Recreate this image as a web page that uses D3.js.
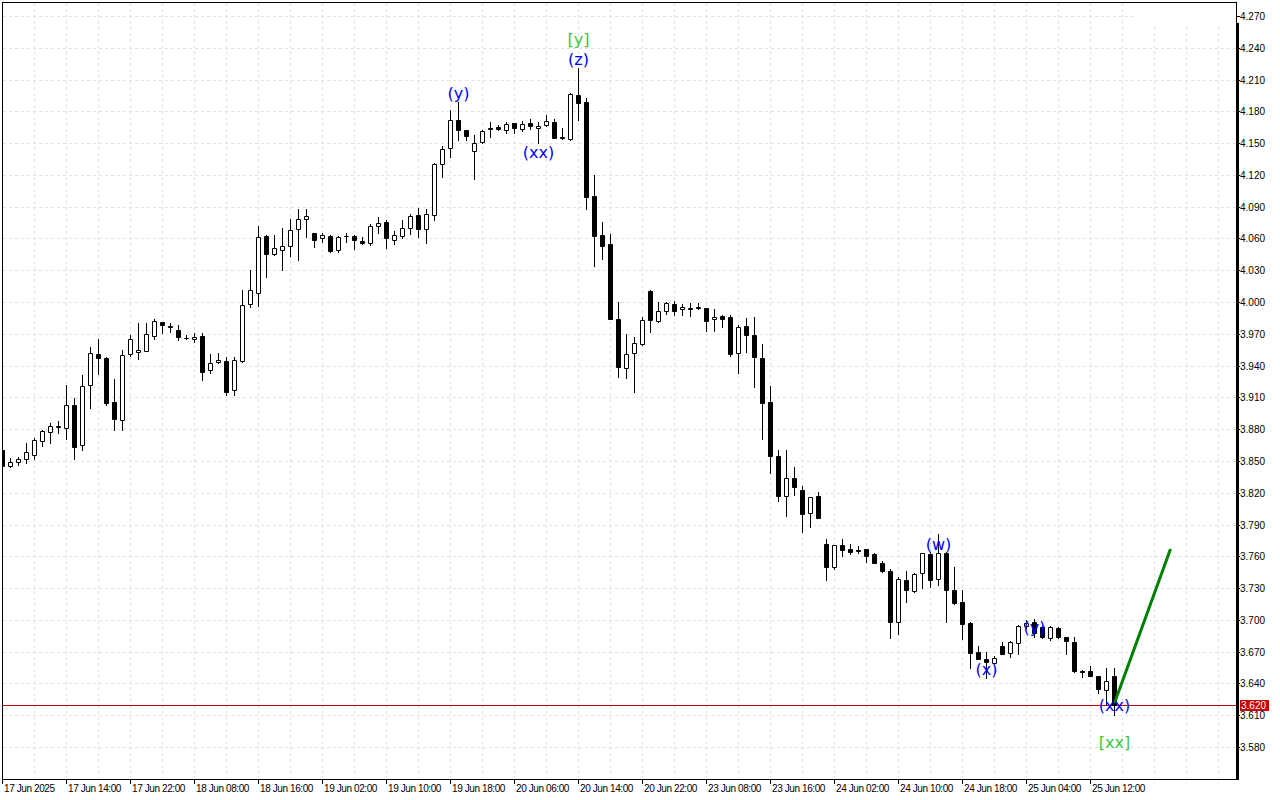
<!DOCTYPE html>
<html><head><meta charset="utf-8">
<script src="https://cdn.jsdelivr.net/npm/d3@7"></script>
<style>html,body{margin:0;padding:0;background:#fff;overflow:hidden}svg{display:block}</style>
</head><body>
<svg id="chart" width="1280" height="800"></svg>
<script>
// ---- DATA (hourly bars) ----
const open = [
3.860,3.845,3.849,3.852,3.856,3.869,3.877,3.882,3.881,3.903,
3.865,3.922,3.951,3.947,3.906,3.889,3.951,3.953,3.954,3.968,
3.981,3.977,3.974,3.966,3.965,3.968,3.936,3.943,3.944,3.917,
3.944,3.998,4.009,4.062,4.045,4.049,4.053,4.069,4.078,4.065,
4.060,4.062,4.049,4.062,4.062,4.058,4.056,4.072,4.076,4.059,
4.062,4.070,4.082,4.069,4.082,4.130,4.145,4.172,4.162,4.143,
4.151,4.164,4.165,4.162,4.169,4.163,4.169,4.164,4.167,4.170,
4.156,4.154,4.195,4.189,4.100,4.063,4.055,3.984,3.938,3.952,
3.960,4.010,3.982,3.992,3.998,3.993,3.994,3.995,3.994,3.984,
3.987,3.986,3.952,3.977,3.969,3.947,3.906,3.855,3.817,3.834,
3.823,3.801,3.817,3.772,3.750,3.771,3.767,3.766,3.767,3.762,
3.754,3.746,3.698,3.738,3.727,3.744,3.762,3.739,3.763,3.728,
3.717,3.697,3.670,3.663,3.659,3.675,3.669,3.678,3.694,3.698,
3.693,3.683,3.692,3.684,3.679,3.652,3.652,3.647,3.634,3.647];
const high = [
3.861,3.853,3.854,3.867,3.872,3.879,3.886,3.888,3.922,3.909,
3.931,3.958,3.965,3.948,3.927,3.955,3.969,3.980,3.980,3.984,
3.981,3.980,3.978,3.969,3.971,3.971,3.951,3.952,3.948,3.948,
4.011,4.030,4.072,4.063,4.063,4.070,4.078,4.088,4.088,4.065,
4.065,4.063,4.062,4.065,4.063,4.061,4.074,4.080,4.077,4.067,
4.077,4.083,4.089,4.088,4.131,4.147,4.181,4.189,4.162,4.158,
4.162,4.170,4.167,4.170,4.169,4.171,4.173,4.170,4.177,4.173,
4.164,4.197,4.221,4.193,4.120,4.076,4.064,4.000,3.970,3.967,
3.986,4.011,4.000,4.000,4.001,3.998,3.999,3.999,3.994,3.993,
3.988,3.988,3.978,3.985,3.986,3.960,3.921,3.860,3.860,3.844,
3.826,3.816,3.821,3.776,3.771,3.776,3.772,3.770,3.767,3.763,
3.756,3.748,3.740,3.746,3.744,3.763,3.764,3.781,3.764,3.750,
3.728,3.698,3.675,3.670,3.666,3.679,3.680,3.695,3.700,3.701,
3.694,3.694,3.693,3.684,3.684,3.653,3.656,3.647,3.655,3.655];
const low = [
3.844,3.844,3.846,3.848,3.852,3.864,3.867,3.876,3.871,3.852,
3.860,3.900,3.932,3.903,3.879,3.879,3.949,3.946,3.954,3.965,
3.971,3.972,3.964,3.965,3.962,3.926,3.933,3.942,3.912,3.912,
3.943,3.995,3.996,4.024,4.044,4.030,4.043,4.040,4.061,4.052,
4.057,4.047,4.047,4.057,4.050,4.055,4.054,4.065,4.051,4.055,
4.060,4.064,4.061,4.056,4.077,4.118,4.137,4.153,4.153,4.116,
4.150,4.156,4.162,4.160,4.160,4.161,4.163,4.150,4.166,4.155,
4.154,4.153,4.172,4.088,4.034,4.041,3.984,3.929,3.928,3.915,
3.959,3.972,3.981,3.989,3.988,3.988,3.987,3.993,3.973,3.973,
3.976,3.949,3.933,3.953,3.920,3.871,3.839,3.812,3.798,3.818,
3.783,3.788,3.796,3.738,3.748,3.760,3.762,3.763,3.755,3.754,
3.745,3.683,3.687,3.717,3.726,3.730,3.731,3.733,3.698,3.715,
3.682,3.655,3.663,3.645,3.659,3.668,3.665,3.668,3.692,3.684,
3.683,3.681,3.683,3.668,3.651,3.646,3.647,3.631,3.620,3.610];
const close = [
3.845,3.849,3.852,3.858,3.870,3.878,3.883,3.883,3.903,3.863,
3.921,3.952,3.947,3.905,3.890,3.950,3.965,3.955,3.970,3.982,
3.978,3.976,3.967,3.966,3.967,3.934,3.942,3.945,3.915,3.945,
3.997,4.011,4.061,4.045,4.051,4.053,4.068,4.078,4.081,4.059,
4.063,4.048,4.061,4.062,4.059,4.056,4.072,4.075,4.060,4.063,
4.070,4.081,4.069,4.083,4.130,4.144,4.172,4.162,4.157,4.150,
4.161,4.163,4.163,4.168,4.164,4.168,4.166,4.166,4.171,4.155,
4.155,4.196,4.188,4.099,4.062,4.053,3.984,3.939,3.951,3.961,
3.983,3.983,3.992,3.999,3.992,3.995,3.993,3.994,3.982,3.986,
3.984,3.951,3.976,3.969,3.948,3.905,3.855,3.817,3.834,3.825,
3.800,3.816,3.796,3.750,3.771,3.766,3.764,3.765,3.760,3.754,
3.746,3.698,3.739,3.728,3.743,3.763,3.738,3.763,3.728,3.716,
3.696,3.669,3.663,3.660,3.664,3.668,3.679,3.694,3.697,3.688,
3.684,3.693,3.684,3.680,3.652,3.651,3.647,3.635,3.642,3.620];

const timeLabels = ["17 Jun 2025","17 Jun 14:00","17 Jun 22:00","18 Jun 08:00","18 Jun 16:00",
  "19 Jun 02:00","19 Jun 10:00","19 Jun 18:00","20 Jun 06:00","20 Jun 14:00","20 Jun 22:00",
  "23 Jun 08:00","23 Jun 16:00","24 Jun 02:00","24 Jun 10:00","24 Jun 18:00","25 Jun 04:00","25 Jun 12:00"];
const timeLabelBars = [0,8,16,24,32,40,48,56,64,72,80,88,96,104,112,120,128,136];
const priceTicks = [3.580,3.610,3.640,3.670,3.700,3.730,3.760,3.790,3.820,3.850,3.880,3.910,3.940,
  3.970,4.000,4.030,4.060,4.090,4.120,4.150,4.180,4.210,4.240,4.270];
const lastPrice = 3.620;

const waveText   = ["[y]","(z)","(y)","(xx)","(w)","(x)","(y)","(xx)","[xx]"];
const waveBar    = [72,72,57,67,117,123,129,139,139];
const wavePrice  = [4.248,4.229,4.1965,4.1415,3.7715,3.6535,3.6925,3.6195,3.5842];
const waveDegree = ["major","minor","minor","minor","minor","minor","minor","minor","major"];

const projBars = [139,146];
const projPrices = [3.6215,3.767];

// ---- DRAW ----
const svg = d3.select('#chart');
const L = 2, T = 2, R = 1236, B = 779;
const x = d3.scaleLinear().domain([0,154.25]).range([2.5,1236.5]);
const y = d3.scaleLinear().domain([3.580,4.270]).range([747,16]);
const yr = y.copy().interpolate(d3.interpolateRound);

svg.append('rect').attr('width',1280).attr('height',800).attr('fill','#fff');
svg.append('defs').append('clipPath').attr('id','plot')
  .append('rect').attr('x',L+1).attr('y',T+1).attr('width',R-L-1).attr('height',B-T-1);

const grid = svg.append('g').attr('stroke','#e2e2e2').attr('stroke-dasharray','3,3').attr('stroke-width',1);
grid.selectAll('line.h').data(priceTicks).join('line').attr('class','h')
  .attr('x1',L+1).attr('x2',R).attr('y1',d=>yr(d)+0.5).attr('y2',d=>yr(d)+0.5);
grid.selectAll('line.v').data(d3.range(4,153,4)).join('line').attr('class','v')
  .attr('x1',d=>x(d)).attr('x2',d=>x(d)).attr('y1',T+1).attr('y2',B);
// blank box at top-right of plot
svg.append('rect').attr('x',1138).attr('y',T+1).attr('width',R-1138).attr('height',21).attr('fill','#fff');

const plot = svg.append('g').attr('clip-path','url(#plot)');

// last price line
plot.append('line').attr('x1',L).attr('x2',R).attr('y1',yr(lastPrice)+0.5).attr('y2',yr(lastPrice)+0.5)
  .attr('stroke','#c00000').attr('stroke-width',1);

const bars = d3.range(open.length);
plot.append('g').selectAll('line').data(bars).join('line')
  .attr('x1',i=>x(i)).attr('x2',i=>x(i))
  .attr('y1',i=>yr(high[i])).attr('y2',i=>yr(low[i])+1)
  .attr('stroke','#000').attr('stroke-width',1);
plot.append('g').selectAll('path').data(bars).join('path')
  .attr('d',i=>{
    const t = yr(Math.max(open[i],close[i])), b = yr(Math.min(open[i],close[i]));
    return `M${x(i)-2},${t+0.5}h4v${b-t}h-4z`;
  })
  .attr('fill',i=>close[i]>open[i]?'#fff':'#000')
  .attr('stroke','#000').attr('stroke-width',1);

// projection line
plot.append('path').datum(d3.range(projBars.length))
  .attr('d',d3.line().x(i=>x(projBars[i])).y(i=>y(projPrices[i])))
  .attr('stroke','#008000').attr('stroke-width',3).attr('fill','none');

// wave labels
const degColor = {major:'#3dc83d', minor:'#0000ff'};
svg.append('g').selectAll('text').data(d3.range(waveText.length)).join('text')
  .attr('x',i=>x(waveBar[i])).attr('y',i=>y(wavePrice[i]))
  .attr('text-anchor','middle').attr('dominant-baseline','central')
  .attr('font-family','DejaVu Sans').attr('font-size',16)
  .attr('fill',i=>degColor[waveDegree[i]])
  .text(i=>waveText[i]);

// borders
svg.append('line').attr('x1',L).attr('x2',R+1).attr('y1',T+0.5).attr('y2',T+0.5).attr('stroke','#000');
svg.append('line').attr('x1',L+0.5).attr('x2',L+0.5).attr('y1',T).attr('y2',B+1).attr('stroke','#000');
svg.append('line').attr('x1',L).attr('x2',R+3).attr('y1',B+0.5).attr('y2',B+0.5).attr('stroke','#000');
svg.append('line').attr('x1',R+0.5).attr('x2',R+0.5).attr('y1',T).attr('y2',24).attr('stroke','#000');
svg.append('rect').attr('x',R).attr('y',23).attr('width',3).attr('height',B-23+1).attr('fill','#000');

// y axis
const yAxis = svg.append('g').attr('transform',`translate(${R+1},0)`)
  .call(d3.axisRight(yr).tickValues(priceTicks).tickSize(3).tickPadding(0).tickFormat(d3.format('.3f')));
yAxis.select('.domain').remove();
yAxis.selectAll('text').attr('font-family','Liberation Sans').attr('font-size',10).attr('fill','#000');

// x axis
const xAxis = svg.append('g').attr('transform',`translate(-0.5,${B})`)
  .call(d3.axisBottom(x).tickValues(timeLabelBars).tickSize(5).tickPadding(1)
    .tickFormat((d,i)=>timeLabels[i]));
xAxis.select('.domain').remove();
xAxis.selectAll('text').attr('text-anchor','start').attr('x',1.5)
  .attr('font-family','Liberation Sans').attr('font-size',10).attr('letter-spacing','-0.4px').attr('fill','#000');

// last price tag
svg.append('rect').attr('x',1240).attr('y',yr(lastPrice)-5).attr('width',29).attr('height',11).attr('fill','#c80000');
svg.append('text').attr('x',1241).attr('y',yr(lastPrice)+0.5).attr('dy','0.34em')
  .attr('font-family','Liberation Sans').attr('font-size',10).attr('fill','#fff').text(d3.format('.3f')(lastPrice));
</script>
</body></html>
